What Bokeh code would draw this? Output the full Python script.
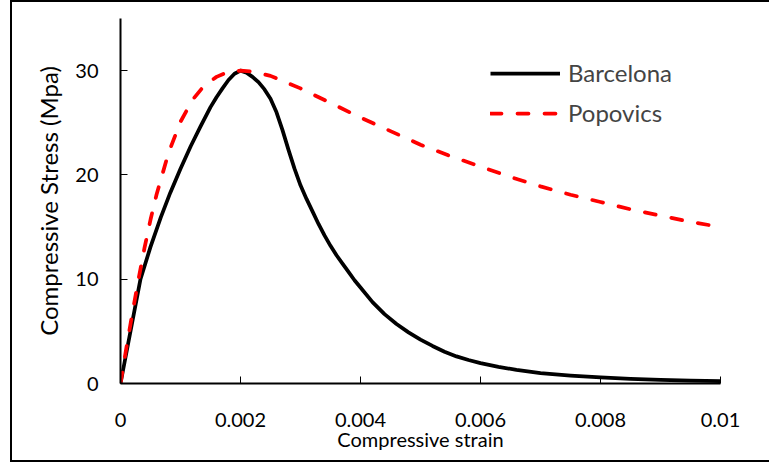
from bokeh.plotting import figure
from bokeh.embed import file_html
from bokeh.resources import INLINE
from bokeh.models import (FixedTicker, CustomJSTickFormatter, Legend, LegendItem, Range1d)

# ---- data ----
barcelona_strain = [0, 0.000333, 0.0005, 0.00067, 0.00083, 0.001, 0.00117, 0.00133,
                    0.0015, 0.0016, 0.0017, 0.0018, 0.0019, 0.002, 0.0021, 0.0022,
                    0.0023, 0.0024, 0.0025, 0.0026, 0.0027, 0.0028, 0.0029, 0.003,
                    0.0031, 0.0032, 0.0033, 0.0034, 0.0035, 0.0036, 0.0037, 0.0038,
                    0.0039, 0.004, 0.0042, 0.0044, 0.0046, 0.0048, 0.005, 0.0052,
                    0.0054, 0.0056, 0.0058, 0.006, 0.0063, 0.0066, 0.007, 0.0075,
                    0.008, 0.0085, 0.009, 0.0095, 0.01]
barcelona_stress = [0, 10.0, 13.1, 15.9, 18.3, 20.6, 22.75, 24.6,
                    26.5, 27.45, 28.3, 29.1, 29.7, 30.0, 29.8, 29.4,
                    28.9, 28.2, 27.3, 26.0, 24.3, 22.4, 20.6, 19.0,
                    17.7, 16.5, 15.3, 14.2, 13.2, 12.3, 11.5, 10.7,
                    9.9, 9.2, 7.8, 6.65, 5.7, 4.9, 4.2, 3.6,
                    3.05, 2.6, 2.25, 1.95, 1.6, 1.3, 1.0, 0.76,
                    0.58, 0.45, 0.35, 0.28, 0.22]

popovics_strain = [0, 0.0001, 0.0002, 0.0003, 0.0004, 0.0005, 0.0006, 0.0008, 0.001,
                   0.0012, 0.0014, 0.0016, 0.0018, 0.002, 0.0022, 0.0025, 0.003,
                   0.0035, 0.004, 0.0045, 0.005, 0.0055, 0.006, 0.0065, 0.007,
                   0.0075, 0.008, 0.0085, 0.009, 0.0095, 0.01]
popovics_stress = [0, 3.5, 6.8, 10.0, 13.0, 15.7, 18.1, 22.1, 25.1,
                   27.2, 28.6, 29.4, 29.9, 30.0, 29.9, 29.5, 28.3,
                   26.9, 25.5, 24.2, 22.9, 21.8, 20.8, 19.8, 18.9,
                   18.1, 17.4, 16.7, 16.1, 15.5, 15.0]

x_ticks = [0, 0.002, 0.004, 0.006, 0.008, 0.01]
y_ticks = [0, 10, 20, 30]
x_title = "Compressive strain"
y_title = "Compressive Stress (Mpa)"
series_names = ["Barcelona", "Popovics"]

FONT = "Lato"

p = figure(width=769, height=463, output_backend="svg", toolbar_location=None,
           x_range=Range1d(0, 0.01), y_range=Range1d(0, 35),
           min_border_left=120, min_border_right=49, min_border_top=18,
           min_border_bottom=80)
p.outline_line_color = None
p.grid.visible = False
p.background_fill_color = "white"
p.border_fill_alpha = 0
# outer chart frame (left, top and bottom edges), drawn behind the transparent canvas
p.styles = {
    "background-color": "white",
    "box-shadow": ("inset 10px 0 0 0 white, inset 0 -1px 0 0 white, "
                   "inset 12px 0 0 0 black, inset 0 2px 0 0 black, "
                   "inset 0 -3px 0 0 black"),
}

r1 = p.line(barcelona_strain, barcelona_stress, line_color="black", line_width=3.75,
            line_join="round")
r2 = p.line(popovics_strain, popovics_stress, line_color="#ff0000", line_width=3.75,
            line_dash="11 16", line_cap="round", line_join="round")

for ax in (p.xaxis[0], p.yaxis[0]):
    ax.axis_line_color = "black"
    ax.axis_line_width = 2
    ax.major_tick_line_color = "black"
    ax.major_tick_line_width = 1
    ax.major_tick_in = 7
    ax.major_tick_out = 0
    ax.minor_tick_line_color = None
    ax.major_label_text_font = FONT
    ax.major_label_text_font_size = "20px"
    ax.major_label_text_color = "black"
    ax.axis_label_text_font = FONT
    ax.axis_label_text_font_style = "normal"
    ax.axis_label_text_color = "black"

p.xaxis[0].axis_label_text_font_size = "20px"
p.yaxis[0].axis_label_text_font_size = "24px"
p.xaxis[0].ticker = FixedTicker(ticks=x_ticks)
p.yaxis[0].ticker = FixedTicker(ticks=y_ticks)
p.xaxis[0].formatter = CustomJSTickFormatter(code="return String(Number(tick.toPrecision(6)));")
p.xaxis[0].axis_label = x_title
p.yaxis[0].axis_label = y_title
p.xaxis[0].major_label_standoff = 29
p.xaxis[0].axis_label_standoff = -3
p.yaxis[0].major_label_standoff = 22
p.yaxis[0].axis_label_standoff = 9

legend = Legend(items=[LegendItem(label=series_names[0], renderers=[r1]),
                       LegendItem(label=series_names[1], renderers=[r2])],
                location=(370, 256), padding=0, margin=0, spacing=11,
                glyph_width=70, glyph_height=24, label_height=24,
                label_standoff=8, label_text_font=FONT, label_text_font_size="24px",
                border_line_color=None, background_fill_alpha=0)
p.add_layout(legend)

open("out.html", "w").write(file_html(p, INLINE))
